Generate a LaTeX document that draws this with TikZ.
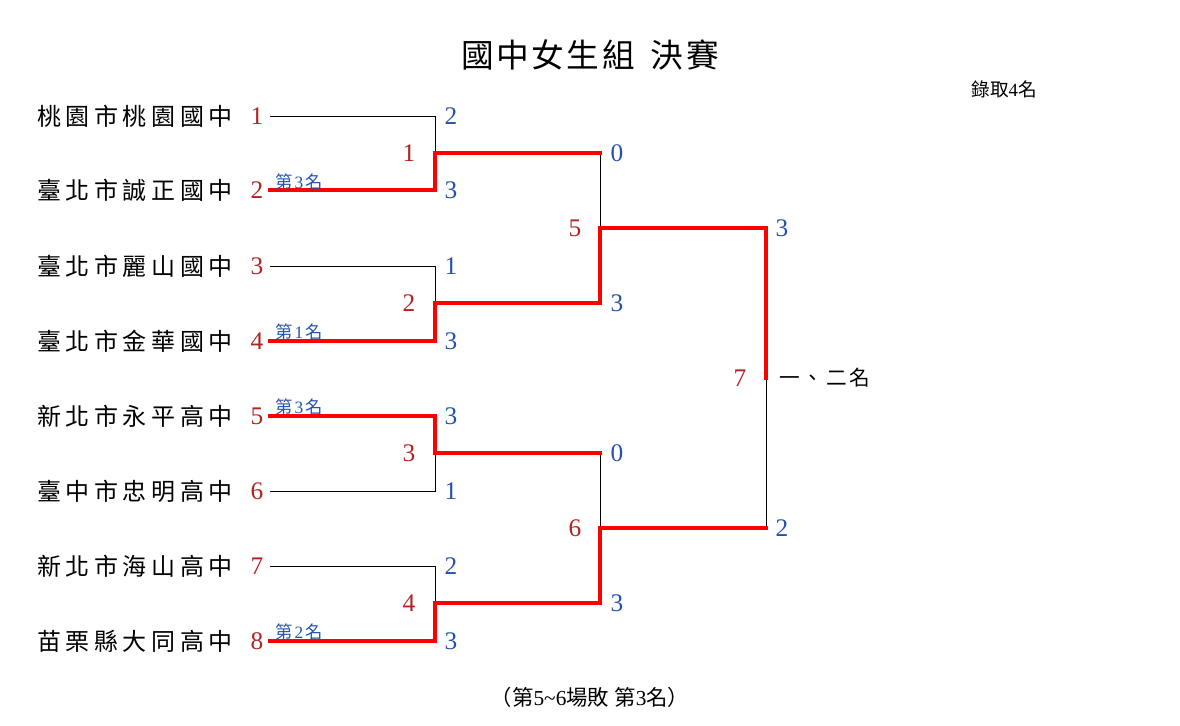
\documentclass[tikz,border=0pt]{standalone}
\usepackage{fontspec}
\setmainfont{Liberation Serif}
\newfontfamily\cjk{Noto Sans CJK TC}
\newfontfamily\cjkwide[LetterSpace=19]{Noto Sans CJK TC}
\newfontfamily\cjktitle[LetterSpace=8]{Noto Sans CJK TC}
\newfontfamily\cjkmid[LetterSpace=14]{Noto Sans CJK TC}
\definecolor{seedred}{RGB}{178,34,34}
\definecolor{scoreblue}{RGB}{36,82,170}
\definecolor{winred}{RGB}{255,0,0}
\tikzset{
  team/.style={anchor=west,inner sep=0pt,font=\cjkwide\fontsize{18}{20}\selectfont},
  seed/.style={inner sep=0pt,text=seedred,font=\fontsize{19}{22}\selectfont},
  matchno/.style={inner sep=0pt,text=seedred,font=\fontsize{19}{22}\selectfont},
  score/.style={inner sep=0pt,text=scoreblue,font=\fontsize{19}{22}\selectfont},
  rank/.style={anchor=base west,inner sep=0pt,text=scoreblue,font=\fontsize{13}{15}\selectfont},
  loseline/.style={draw=black,line width=0.75pt},
  winline/.style={draw=winred,line width=2.3pt,line join=miter,line cap=rect},
}
\newcommand{\rk}[1]{{\cjk 第}\hspace{1.5pt}#1\hspace{1.5pt}{\cjk 名}}
\begin{document}
\begin{tikzpicture}[x=0.75pt,y=-0.75pt]
\useasboundingbox (0,0) rectangle (1180,725);
% title
\node[inner sep=0pt] (title) at (590,55) {\cjktitle\fontsize{24.5}{28}\selectfont 國中女生組\hspace{12pt}決賽};
\node[inner sep=0pt] (quota) at (1004,89) {\fontsize{14}{16}\selectfont{\cjk 錄取}4{\cjk 名}};
% teams
\foreach \i/\y/\nm in {1/116/桃園市桃園國中,2/190/臺北市誠正國中,3/266/臺北市麗山國中,4/341/臺北市金華國中,5/416/新北市永平高中,6/491/臺中市忠明高中,7/566/新北市海山高中,8/641/苗栗縣大同高中}{
  \node[team] (t\i) at (37,\y) {\nm};
  \node[seed] (sd\i) at (257,\y) {\i};
  \coordinate (s\i) at (270,\y);
  \coordinate (a\i) at (435,\y);
}
% round 1 mid points
\coordinate (m1) at (435,153);
\coordinate (m2) at (435,303);
\coordinate (m3) at (435,453);
\coordinate (m4) at (435,603);
\coordinate (b1) at (600,153);
\coordinate (b2) at (600,303);
\coordinate (b3) at (600,453);
\coordinate (b4) at (600,603);
\coordinate (n1) at (600,228);
\coordinate (n2) at (600,528);
\coordinate (c1) at (766,228);
\coordinate (c2) at (766,528);
\coordinate (f) at (766,378);
% losing lines
\draw[loseline] (s1) -- (a1) -- (m1);
\draw[loseline] (s3) -- (a3) -- (m2);
\draw[loseline] (s6) -- (a6) -- (m3);
\draw[loseline] (s7) -- (a7) -- (m4);
\draw[loseline] (b1) -- (n1);
\draw[loseline] (b3) -- (n2);
\draw[loseline] (f) -- (c2);
% winning lines
\draw[winline] (s2) -- (a2) -- (m1) -- (b1);
\draw[winline] (s4) -- (a4) -- (m2) -- (b2);
\draw[winline] (s5) -- (a5) -- (m3) -- (b3);
\draw[winline] (s8) -- (a8) -- (m4) -- (b4);
\draw[winline] (b2) -- (n1) -- (c1);
\draw[winline] (b4) -- (n2) -- (c2);
\draw[winline] (c1) -- (f);
% match numbers
\node[matchno] (g1) at (409,153) {1};
\node[matchno] (g2) at (409,303) {2};
\node[matchno] (g3) at (409,453) {3};
\node[matchno] (g4) at (409,603) {4};
\node[matchno] (g5) at (575,228) {5};
\node[matchno] (g6) at (575,528) {6};
\node[matchno] (g7) at (740,378) {7};
% scores
\node[score] (r1) at (451,116) {2};
\node[score] (r2) at (451,190) {3};
\node[score] (r3) at (451,266) {1};
\node[score] (r4) at (451,341) {3};
\node[score] (r5) at (451,416) {3};
\node[score] (r6) at (451,491) {1};
\node[score] (r7) at (451,566) {2};
\node[score] (r8) at (451,641) {3};
\node[score] (q1) at (617,153) {0};
\node[score] (q2) at (617,303) {3};
\node[score] (q3) at (617,453) {0};
\node[score] (q4) at (617,603) {3};
\node[score] (z1) at (782,228) {3};
\node[score] (z2) at (782,528) {2};
% ranks
\node[rank] (k2) at (275,188) {\rk{3}};
\node[rank] (k4) at (275,338) {\rk{1}};
\node[rank] (k5) at (275,413) {\rk{3}};
\node[rank] (k8) at (275,638) {\rk{2}};
\node[anchor=west,inner sep=0pt,font=\cjkmid\fontsize{15.5}{18}\selectfont] (champ) at (779,378) {一、二名};
\node[inner sep=0pt] (foot) at (590,697) {\fontsize{16}{19}\selectfont{\cjk （第}5\textasciitilde6{\cjk 場敗}\hspace{4pt}{\cjk 第}3{\cjk 名）}};
\end{tikzpicture}
\end{document}
